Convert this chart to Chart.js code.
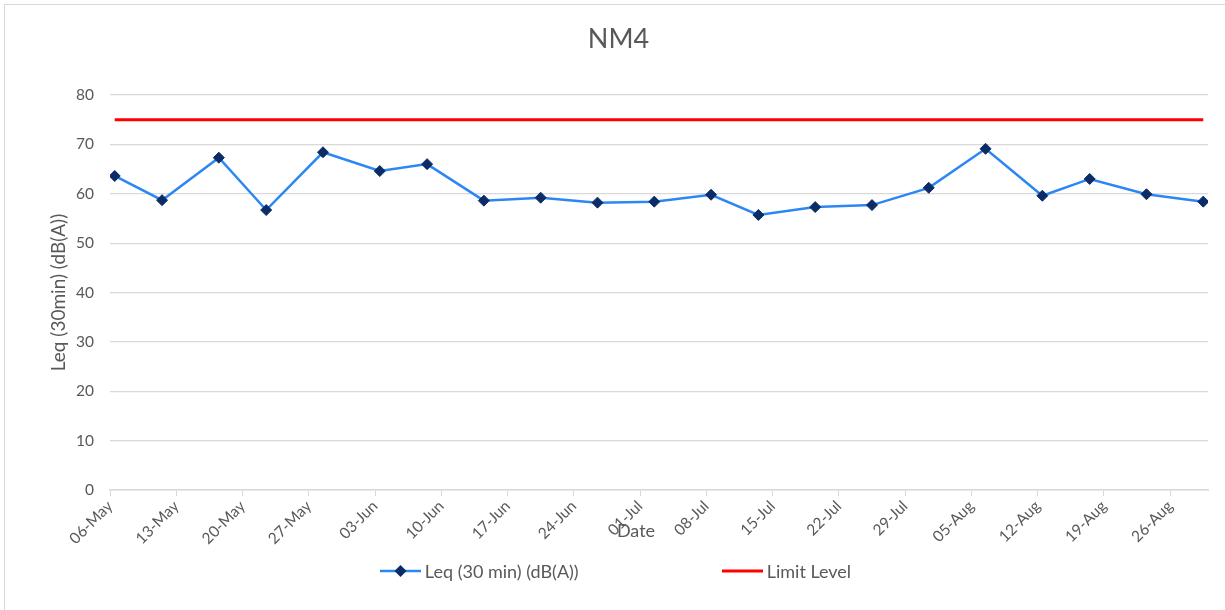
<!DOCTYPE html>
<html>
<head>
<meta charset="utf-8">
<title>NM4</title>
<script src="https://cdn.jsdelivr.net/npm/chart.js@4.4.0/dist/chart.umd.min.js"></script>
<style>
  body { margin: 0; background: #fff; }
  #wrap { position: relative; width: 1225px; height: 610px; }
  #frame { position: absolute; left: 4px; top: 4px; right: 0; bottom: 0;
           border-top: 1px solid #d9d9d9; border-left: 1px solid #d9d9d9; pointer-events: none; }
  #legend { position: absolute; left: 0; top: 560px; width: 1225px; height: 22px;
            box-sizing: border-box; padding-left: 6px;
            display: flex; justify-content: center; align-items: center; gap: 143px;
            font-family: Lato, sans-serif; font-size: 18px; color: #595959; }
  #legend .item { display: flex; align-items: center; }
  #legend canvas { margin-right: 4px; }
</style>
</head>
<body>
<div id="wrap">
  <canvas id="myChart" width="1225" height="610"></canvas>
  <div id="frame"></div>
  <div id="legend"></div>
</div>
<script>
// sample dates (MM-DD) and readings
var sampleDates = ['05-06', '05-11', '05-17', '05-22', '05-28', '06-03', '06-08', '06-14', '06-20', '06-26',
                   '07-02', '07-08', '07-13', '07-19', '07-25', '07-31', '08-06', '08-12', '08-17', '08-23', '08-29'];
var leqValues = [63.6, 58.7, 67.3, 56.7, 68.4, 64.6, 66.0, 58.6, 59.2, 58.2,
                 58.4, 59.8, 55.7, 57.3, 57.7, 61.2, 69.1, 59.6, 63.0, 59.9, 58.4];
var limitValues = [75, 75, 75, 75, 75, 75, 75, 75, 75, 75,
                   75, 75, 75, 75, 75, 75, 75, 75, 75, 75, 75];

var chartTitle = 'NM4';
var xAxisTitle = 'Date';
var yAxisTitle = 'Leq (30min) (dB(A))';
var axisStart = '05-06';   // first tick
var axisDays = 116;        // axis length in days
var months = ['Jan','Feb','Mar','Apr','May','Jun','Jul','Aug','Sep','Oct','Nov','Dec'];

var textColor = '#595959';
var gridColor = '#d9d9d9';

function toDay(md) {
  var p = md.split('-');
  return Date.UTC(2000, +p[0] - 1, +p[1]) / 86400000;
}
var day0 = toDay(axisStart);

function dayLabel(v) {
  var d = new Date((day0 + v) * 86400000);
  var dd = d.getUTCDate();
  return (dd < 10 ? '0' + dd : dd) + '-' + months[d.getUTCMonth()];
}

// points sit in the middle of their day, like a date axis
function points(values) {
  return values.map(function (v, i) {
    return { x: toDay(sampleDates[i]) - day0 + 0.5, y: v };
  });
}

Chart.defaults.font.family = 'Lato';

// chart title and x axis title, placed like the excel original
var extraText = {
  id: 'extraText',
  afterDraw: function (chart) {
    var a = chart.chartArea, ctx = chart.ctx;
    ctx.save();
    ctx.fillStyle = textColor;
    ctx.textAlign = 'center';
    ctx.textBaseline = 'middle';
    ctx.font = '27px Lato';
    ctx.fillText(chartTitle, chart.width / 2 + 6, a.top - 56);
    ctx.font = '18px Lato';
    ctx.fillText(xAxisTitle, (a.left + a.right) / 2 - 23, a.bottom + 41);
    ctx.restore();
  }
};

var htmlLegend = {
  id: 'htmlLegend',
  afterUpdate: function (chart) {
    var box = document.getElementById('legend');
    box.innerHTML = '';
    chart.data.datasets.forEach(function (ds) {
      var item = document.createElement('div');
      item.className = 'item';
      var c = document.createElement('canvas');
      c.width = 41; c.height = 14;
      var g = c.getContext('2d');
      g.strokeStyle = ds.borderColor;
      g.lineWidth = ds.borderWidth;
      g.beginPath(); g.moveTo(0, 7); g.lineTo(41, 7); g.stroke();
      if (ds.pointRadius > 0) {
        g.fillStyle = ds.pointBackgroundColor;
        g.beginPath();
        g.moveTo(20.5, 1); g.lineTo(26.5, 7); g.lineTo(20.5, 13); g.lineTo(14.5, 7);
        g.closePath(); g.fill();
      }
      var t = document.createElement('span');
      t.textContent = ds.label;
      item.appendChild(c);
      item.appendChild(t);
      box.appendChild(item);
    });
  }
};

var ctx = document.getElementById('myChart').getContext('2d');
var chart = new Chart(ctx, {
  type: 'line',
  data: {
    datasets: [{
      label: 'Leq (30 min) (dB(A))',
      data: points(leqValues),
      borderColor: '#2d87f3',
      borderWidth: 2.5,
      pointStyle: 'rectRot',
      pointRadius: 5.5,
      pointBackgroundColor: '#0b2c66',
      pointBorderColor: '#0b2c66',
      pointBorderWidth: 1,
      tension: 0
    }, {
      label: 'Limit Level',
      data: points(limitValues),
      borderColor: '#ff0000',
      borderWidth: 3,
      pointRadius: 0,
      tension: 0
    }]
  },
  options: {
    responsive: false,
    animation: false,
    layout: { padding: { top: 95, right: 17, bottom: 0, left: 0 } },
    plugins: {
      legend: { display: false },
      tooltip: { enabled: false },
      title: { display: false }
    },
    scales: {
      x: {
        type: 'linear',
        min: 0,
        max: axisDays,
        afterFit: function (s) { s.height = 120; },
        ticks: {
          stepSize: 7,
          includeBounds: false,
          autoSkip: false,
          minRotation: 45,
          maxRotation: 45,
          padding: 1,
          color: textColor,
          font: { size: 15.5 },
          callback: function (v) { return dayLabel(v); }
        },
        grid: { drawOnChartArea: false, color: gridColor, tickLength: 6 },
        border: { color: gridColor, width: 1.5 }
      },
      y: {
        min: 0,
        max: 80,
        afterFit: function (s) { s.width = 110; },
        ticks: { stepSize: 10, padding: 16, color: textColor, font: { size: 15.5 } },
        grid: { color: gridColor, drawTicks: false, lineWidth: 1.2 },
        border: { display: false },
        title: {
          display: true,
          text: yAxisTitle,
          color: textColor,
          font: { size: 19 },
          padding: { top: 47, bottom: 0 }
        }
      }
    }
  },
  plugins: [extraText, htmlLegend]
});
</script>
</body>
</html>
